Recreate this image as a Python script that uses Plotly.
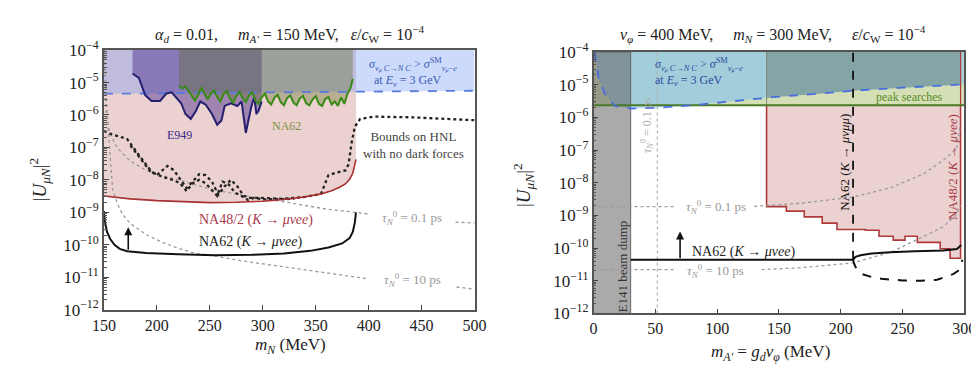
import numpy as np
import plotly.graph_objects as go

# ---------------- shared ----------------
Y_TOP = 1e-4
Y_BOT = 1e-12
Y_tickvals = [1e-12, 1e-11, 1e-10, 1e-9, 1e-8, 1e-7, 1e-6, 1e-5, 1e-4]
Y_ticktext = ["10<sup>−12</sup>", "10<sup>−11</sup>", "10<sup>−10</sup>", "10<sup>−9</sup>",
              "10<sup>−8</sup>", "10<sup>−7</sup>", "10<sup>−6</sup>", "10<sup>−5</sup>", "10<sup>−4</sup>"]

# ---------------- left panel data ----------------
L_xticks = [150, 200, 250, 300, 350, 400, 450, 500]

L_na48_x = [150, 160, 175, 200, 225, 250, 275, 300, 320, 340, 355, 365, 372, 378, 382, 385, 388]
L_na48_y = [3.2e-9, 2.9e-9, 2.6e-9, 2.3e-9, 2.1e-9, 2.0e-9, 2.05e-9, 2.2e-9, 2.5e-9, 3.0e-9,
            3.7e-9, 4.6e-9, 5.8e-9, 7.5e-9, 1.05e-8, 1.6e-8, 4.3e-8]

L_blue_x = [150, 300, 500]
L_blue_y = [4.5e-6, 5.0e-6, 5.6e-6]

L_e949_x = [177, 183, 189, 195, 203, 209, 214, 218, 223, 227, 232, 237, 241, 246, 252, 257,
            261, 264, 270, 276, 280, 284, 289, 292, 294, 296, 299]
L_e949_y = [1.9e-5, 1.4e-5, 4.1e-6, 2.7e-6, 2.7e-6, 4.6e-6, 5.0e-6, 3.6e-6, 2.3e-6, 1.07e-6,
            7.6e-7, 1.35e-6, 2.6e-6, 2.1e-6, 1.07e-6, 5.0e-7, 6.8e-7, 1.9e-6, 2.3e-6, 1.9e-6,
            2.6e-6, 2.8e-7, 1.7e-6, 3.6e-6, 1.07e-6, 1.35e-6, 2.6e-6]

L_na62_x = [221, 224, 227, 230, 233, 236, 239, 242, 245, 248, 251, 254, 257, 260, 263, 266, 269,
            272, 275, 278, 281, 284, 287, 290, 293, 296, 299, 302, 305, 308, 311, 314, 317, 320,
            323, 326, 329, 332, 335, 338, 341, 344, 347, 350, 353, 356, 359, 362, 365, 368, 371,
            374, 377, 380, 383, 385]
L_na62_y = [8e-6, 6.5e-6, 7.5e-6, 5.5e-6, 4e-6, 2.8e-6, 4.2e-6, 7e-6, 4.5e-6, 3.0e-6, 4.5e-6,
            5.8e-6, 3.5e-6, 2.6e-6, 4.4e-6, 5.5e-6, 3.2e-6, 2.4e-6, 3.8e-6, 5.2e-6, 3.3e-6,
            2.5e-6, 4.0e-6, 5.0e-6, 2.8e-6, 2.2e-6, 3.5e-6, 4.6e-6, 2.6e-6, 2.1e-6, 3.4e-6,
            4.2e-6, 2.5e-6, 2.0e-6, 3.3e-6, 4.0e-6, 2.4e-6, 2.0e-6, 3.2e-6, 3.9e-6, 2.3e-6,
            2.0e-6, 3.0e-6, 3.8e-6, 2.2e-6, 1.9e-6, 3.1e-6, 3.6e-6, 2.1e-6, 2.6e-6, 1.9e-6,
            3.5e-6, 2.2e-6, 4.5e-6, 7e-6, 1.3e-5]

L_kee_x = [150, 151, 153, 156, 160, 165, 172, 190, 220, 255, 290, 320, 345, 362, 375, 382, 385, 387, 388]
L_kee_y = [1.1e-9, 5e-10, 2.5e-10, 1.5e-10, 1.0e-10, 7.5e-11, 6.3e-11, 5.6e-11, 5.1e-11, 4.8e-11,
           4.9e-11, 5.4e-11, 6.5e-11, 8.3e-11, 1.1e-10, 1.6e-10, 2.5e-10, 5e-10, 1e-9]
L_arrow_x = [173, 173]
L_arrow_y = [6.3e-11, 3.5e-10]

L_hnl1_x = [150, 158, 166, 172, 180, 188, 195, 200, 205, 210, 216, 222, 228, 234, 240, 246, 252,
            258, 264, 270, 276, 282, 288, 295, 305, 320, 340, 355, 362, 370, 378, 381, 384, 387,
            392, 405, 440, 470, 500]
L_hnl1_y = [3.2e-7, 2.5e-7, 2.1e-7, 1.8e-7, 7.9e-8, 3.5e-8, 1.8e-8, 1.4e-8, 2.0e-8, 2.7e-8,
            2.0e-8, 1.1e-8, 5.6e-9, 8.9e-9, 1.5e-8, 1.4e-8, 8.9e-9, 3.5e-9, 6.3e-9, 1.0e-8,
            6.3e-9, 3.2e-9, 2.8e-9, 2.8e-9, 2.7e-9, 2.6e-9, 3.0e-9, 3.7e-9, 1.4e-8, 1.7e-8,
            1.95e-8, 3.0e-8, 1.45e-7, 4.4e-7, 7.6e-7, 8.9e-7, 8.5e-7, 7.6e-7, 6.9e-7]
L_hnl2_x = [175, 184, 194, 205, 215, 222, 228, 234, 240, 246, 252, 257, 262, 268, 274, 280,
            286, 292, 300, 315, 330]
L_hnl2_y = [1.15e-7, 4.8e-8, 1.8e-8, 1.25e-8, 1.0e-8, 7.9e-9, 4.5e-9, 7.9e-9, 1.0e-8, 7.9e-9,
            5.0e-9, 3.2e-9, 8.9e-9, 7.1e-9, 4.0e-9, 3.2e-9, 2.4e-9, 2.8e-9, 2.5e-9, 2.5e-9, 2.6e-9]

L_tau01_x = [150.3, 152, 156, 163, 175, 190, 205, 221, 236, 252, 267, 282, 300, 320, 340, 360, 380, 400]
L_tau01_y = [1e-4, 1.07e-6, 2.5e-7, 9.3e-8, 3.8e-8, 1.95e-8, 1.35e-8, 1.0e-8, 7.1e-9, 5.1e-9,
             4.1e-9, 3.3e-9, 2.6e-9, 2.1e-9, 1.6e-9, 1.26e-9, 1.07e-9, 8.9e-10]
L_tau01b_x = [482, 500]
L_tau01b_y = [5.0e-10, 4.7e-10]
L_tau10_x = [150.3, 152, 153.5, 155.2, 158.3, 163, 167.5, 175, 190.5, 206, 221, 237, 255, 280,
             316, 350, 380, 398]
L_tau10_y = [1e-4, 3.6e-6, 6.3e-7, 1.15e-7, 5.0e-9, 1.8e-9, 8.7e-10, 4.5e-10, 2.0e-10, 1.17e-10,
             7.6e-11, 5.4e-11, 4.5e-11, 3.2e-11, 2.2e-11, 1.5e-11, 1.12e-11, 9.1e-12]
L_tau10b_x = [483, 500]
L_tau10b_y = [5.0e-12, 4.3e-12]

# ---------------- right panel data ----------------
R_xticks = [0, 50, 100, 150, 200, 250, 300]
R_e141_x = [0, 30]
R_peak_y = 2.35e-6
R_blue_x = [0.8, 1.6, 4.2, 9.5, 17.4, 30.5, 50, 80, 110, 150, 180, 212, 250, 299.5]
R_blue_y = [1e-4, 6.8e-5, 1.45e-5, 4.8e-6, 2.2e-6, 1.86e-6, 1.95e-6, 2.35e-6, 3.0e-6, 4.3e-6,
            5.2e-6, 6.6e-6, 8.1e-6, 1.02e-5]
R_step_x = [140, 156, 170.5, 185, 197, 220, 231, 242.5, 252, 262, 280.5, 288.5, 297]
R_step_y = [1.86e-9, 1.35e-9, 9e-10, 5.8e-10, 3.7e-10, 3.5e-10, 2.3e-10, 1.75e-10, 2.3e-10,
            1.5e-10, 9.5e-11, 4.9e-11]
R_kee_x = [30, 210, 212, 216, 225, 240, 260, 283, 294, 297.5]
R_kee_y = [4.4e-11, 4.4e-11, 5.4e-11, 6.0e-11, 6.8e-11, 7.5e-11, 8.0e-11, 8.5e-11, 9.3e-11, 1.25e-10]
R_dash_x = [210, 211, 213, 217.4, 225, 233, 250, 264.7, 278, 284.5, 291, 295, 297.5, 298.5]
R_dash_y = [4.4e-11, 3.2e-11, 2.2e-11, 1.6e-11, 1.3e-11, 1.15e-11, 1.02e-11, 1.0e-11, 1.07e-11,
            1.3e-11, 1.6e-11, 2.0e-11, 3.2e-11, 4.4e-11]
R_mumu_x = 210
R_arrow_x = [70, 70]
R_arrow_y = [4.4e-11, 3.2e-10]
R_tau01a_x = [4, 67]
R_tau01a_y = [1.86e-9, 1.86e-9]
R_tau01b_x = [130, 167, 209.5, 241, 267.4, 285.8, 293.7, 296.5]
R_tau01b_y = [1.9e-9, 2.35e-9, 3.6e-9, 7.1e-9, 1.9e-8, 5.8e-8, 1.1e-7, 5e-7]
R_tau10a_x = [4, 67]
R_tau10a_y = [2.2e-11, 2.2e-11]
R_tau10b_x = [136, 167.4, 209.5, 241, 267.4, 283, 293.7, 297]
R_tau10b_y = [2.2e-11, 2.5e-11, 3.5e-11, 7.6e-11, 2.3e-10, 4.5e-10, 1.07e-9, 2.0e-9]
R_vdot_x = 51.6

# ---------------- colours ----------------
PINK = "rgba(205,140,135,0.40)"
L_BLUE = "rgba(110,150,245,0.35)"
E949_FILL = "rgba(70,40,140,0.45)"
NA62_FILL = "rgba(90,110,30,0.35)"
R_GREEN = "rgba(160,185,90,0.45)"
R_BLUE = "rgba(120,190,250,0.55)"
R_DARK = "rgba(80,90,70,0.35)"
GREY_FILL = "rgba(100,100,100,0.55)"
FONT = "Liberation Serif"

fig = go.Figure()


def add(x, y, ax, **kw):
    xa, ya = ("x", "y") if ax == 0 else ("x2", "y2")
    fig.add_trace(go.Scatter(x=x, y=y, xaxis=xa, yaxis=ya, showlegend=False,
                             hoverinfo="skip", **kw))


def region_above(x, y):
    return list(x) + [x[-1], x[0]], list(y) + [Y_TOP, Y_TOP]


NOLINE = dict(width=0)

# ===== left panel =====
px_, py_ = region_above(L_na48_x, L_na48_y)
add(px_, py_, 0, fill="toself", fillcolor=PINK, mode="lines", line=NOLINE)
px_, py_ = region_above(L_blue_x, L_blue_y)
add(px_, py_, 0, fill="toself", fillcolor=L_BLUE, mode="lines", line=NOLINE)
px_, py_ = region_above(L_e949_x, L_e949_y)
add(px_, py_, 0, fill="toself", fillcolor=E949_FILL, mode="lines", line=NOLINE)
px_, py_ = region_above(L_na62_x, L_na62_y)
add(px_, py_, 0, fill="toself", fillcolor=NA62_FILL, mode="lines", line=NOLINE)

add(L_blue_x, L_blue_y, 0, mode="lines", line=dict(color="#5a7ae0", width=1.8, dash="dash"))
for xs, ys in [(L_tau01_x, L_tau01_y), (L_tau01b_x, L_tau01b_y),
               (L_tau10_x, L_tau10_y), (L_tau10b_x, L_tau10b_y)]:
    add(xs, ys, 0, mode="lines", line=dict(color="#9a9a9a", width=1.3, dash="dot"))
add(L_hnl1_x, L_hnl1_y, 0, mode="lines", line=dict(color="#222", width=2.3, dash="dot"))
add(L_hnl2_x, L_hnl2_y, 0, mode="lines", line=dict(color="#222", width=2.3, dash="dot"))
add(L_na48_x, L_na48_y, 0, mode="lines", line=dict(color="#a83232", width=1.6))
add(L_e949_x, L_e949_y, 0, mode="lines", line=dict(color="#262070", width=2))
add(L_na62_x, L_na62_y, 0, mode="lines", line=dict(color="#3a8a18", width=2))
add(L_kee_x, L_kee_y, 0, mode="lines", line=dict(color="#111", width=2))

# ===== right panel =====
# NA48/2 staircase region (below the peak-search line)
sx, sy = [R_step_x[0]], [R_peak_y]
for i, v in enumerate(R_step_y):
    sx += [R_step_x[i], R_step_x[i + 1]]
    sy += [v, v]
sx += [R_step_x[-1]]
sy += [R_peak_y]
add(sx, sy, 1, fill="toself", fillcolor=PINK, mode="lines", line=dict(color="#b03a3a", width=1.6))
# peak searches band
add([0, 300, 300, 0], [R_peak_y, R_peak_y, Y_TOP, Y_TOP], 1, fill="toself", fillcolor=R_GREEN,
    mode="lines", line=NOLINE)
# cross-section region above the dashed curve
px_, py_ = region_above(R_blue_x, R_blue_y)
add(px_, py_, 1, fill="toself", fillcolor=R_BLUE, mode="lines", line=NOLINE)
# darker overlap above the dashed curve where NA48/2 applies
lbx = np.log10(R_blue_y)
x0, x1 = R_step_x[0], R_step_x[-1]
ox = [x0] + [v for v in R_blue_x if x0 < v < x1] + [x1]
oy = [10 ** np.interp(v, R_blue_x, lbx) for v in ox]
add(ox + [x1, x0], oy + [Y_TOP, Y_TOP], 1, fill="toself", fillcolor=R_DARK, mode="lines",
    line=NOLINE)
add([x0, x0], [R_peak_y, Y_TOP], 1, mode="lines", line=dict(color="#7a8a80", width=1))
add([x1, x1], [R_peak_y, Y_TOP], 1, mode="lines", line=dict(color="#b03a3a", width=1.2))
# E141 beam dump
add([R_e141_x[0], R_e141_x[1], R_e141_x[1], R_e141_x[0]], [Y_BOT, Y_BOT, Y_TOP, Y_TOP], 1,
    fill="toself", fillcolor=GREY_FILL, mode="lines", line=dict(color="#666", width=1))

add([0, 300], [R_peak_y, R_peak_y], 1, mode="lines", line=dict(color="#4a7a28", width=2))
add(R_blue_x, R_blue_y, 1, mode="lines", line=dict(color="#4a6ee0", width=1.8, dash="dash"))
add([R_vdot_x, R_vdot_x], [Y_BOT, Y_TOP], 1, mode="lines",
    line=dict(color="#b0b0b0", width=1.2, dash="dot"))
for xs, ys in [(R_tau01a_x, R_tau01a_y), (R_tau01b_x, R_tau01b_y),
               (R_tau10a_x, R_tau10a_y), (R_tau10b_x, R_tau10b_y)]:
    add(xs, ys, 1, mode="lines", line=dict(color="#9a9a9a", width=1.3, dash="dot"))
add([R_mumu_x, R_mumu_x], [R_kee_y[0], Y_TOP], 1, mode="lines",
    line=dict(color="#111", width=1.8, dash="dash"))
add(R_kee_x, R_kee_y, 1, mode="lines", line=dict(color="#111", width=2))
add(R_dash_x, R_dash_y, 1, mode="lines", line=dict(color="#111", width=2, dash="dash"))

# ---------------- axes ----------------
axis_common = dict(showline=True, linecolor="#555", linewidth=1.5, mirror=True, ticks="inside",
                   ticklen=5, tickcolor="#444", showgrid=False, zeroline=False,
                   tickfont=dict(family=FONT, size=16, color="#222"))
yaxis_common = dict(axis_common, type="log", range=[-12, -4], tickvals=Y_tickvals,
                    ticktext=Y_ticktext, tickfont=dict(family=FONT, size=17, color="#222"),
                    minor=dict(ticks="inside", ticklen=3, tickcolor="#555", dtick="D1"))

fig.update_layout(
    width=979, height=370, autosize=False,
    margin=dict(l=0, r=0, t=0, b=0),
    paper_bgcolor="white", plot_bgcolor="white",
    font=dict(family=FONT, color="#222"),
    xaxis=dict(axis_common, domain=[86 / 979, 466 / 979], range=[150, 500], anchor="y",
               tickvals=L_xticks),
    yaxis=dict(yaxis_common, domain=[62 / 370, 338 / 370], anchor="x"),
    xaxis2=dict(axis_common, domain=[588 / 979, 968 / 979], range=[0, 300], anchor="y2",
                tickvals=R_xticks),
    yaxis2=dict(yaxis_common, domain=[58 / 370, 336 / 370], anchor="x2"),
)

ann = []
NB = "\u00a0"


def paper(text, px, py, size=15, color="#222", angle=0):
    ann.append(dict(text=text, x=px / 979, y=1 - py / 370, xref="paper", yref="paper",
                    showarrow=False, font=dict(family=FONT, size=size, color=color),
                    textangle=angle, xanchor="center", yanchor="middle"))


def data(text, x, y, ax, size=13, color="#222", angle=0, xanchor="center", align="center"):
    xr, yr = ("x", "y") if ax == 0 else ("x2", "y2")
    ann.append(dict(text=text, x=x, y=np.log10(y), xref=xr, yref=yr, showarrow=False,
                    font=dict(family=FONT, size=size, color=color), textangle=angle,
                    xanchor=xanchor, yanchor="middle", align=align))


# titles
paper("<i>α</i><sub><i>d</i></sub> = 0.01," + NB * 5 + "<i>m</i><sub><i>A'</i></sub> = 150 MeV," + NB * 3
      + "<i>ε</i>/<i>c</i><sub>W</sub> = 10<sup>−4</sup>", 276, 15, size=16)
paper("<i>v</i><sub><i>φ</i></sub> = 400 MeV," + NB * 5 + "<i>m</i><sub><i>N</i></sub> = 300 MeV," + NB * 5
      + "<i>ε</i>/<i>c</i><sub>W</sub> = 10<sup>−4</sup>", 772, 15, size=16)
# axis titles
paper("|<i>U</i><sub><i>μN</i></sub>|<sup>2</sup>", 20, 170, size=19, angle=-90)
paper("|<i>U</i><sub><i>μN</i></sub>|<sup>2</sup>", 516, 175, size=19, angle=-90)
paper("<i>m</i><sub><i>N</i></sub> (MeV)", 277, 347, size=17)
paper("<i>m</i><sub><i>A'</i></sub> = <i>g</i><sub><i>d</i></sub><i>v</i><sub><i>φ</i></sub> (MeV)",
      769, 354, size=17)

# left labels
sig = ("<i>σ</i><sub><i>ν<sub>μ</sub></i> <i>C</i>→<i>N C</i></sub> > "
       "<i>σ</i><sup>SM</sup><sub><i>ν<sub>μ</sub></i>−<i>e</i></sub>")
data(sig, 442, 3.5e-5, 0, size=12, color="#3a5ab0")
data("at <i>E</i><sub><i>ν</i></sub> = 3 GeV", 437, 1.1e-5, 0, size=12, color="#3a5ab0")
data("E949", 221, 2.5e-7, 0, size=12, color="#3a2a8a")
data("NA62", 322, 4.5e-7, 0, size=12, color="#7e9040")
data("Bounds on HNL<br>with no dark forces", 442, 1.2e-7, 0, size=13, color="#444")
data("NA48/2 (<i>K</i> → <i>μνee</i>)", 294, 6e-10, 0, size=14, color="#a83a4a")
data("NA62 (<i>K</i> → <i>μνee</i>)", 288, 1.2e-10, 0, size=14, color="#222")
data("<i>τ</i><sub><i>N</i></sub><sup>0</sup> = 0.1 ps", 441, 6.9e-10, 0, size=13, color="#999")
data("<i>τ</i><sub><i>N</i></sub><sup>0</sup> = 10 ps", 441, 8.1e-12, 0, size=13, color="#999")

# right labels
data(sig + "<br>at <i>E</i><sub><i>ν</i></sub> = 3 GeV", 48, 2.5e-5, 1, size=12,
     color="#2a4aa0", xanchor="left", align="left")
data("peak searches", 256, 4.3e-6, 1, size=12, color="#5a8a2a")
data("E141 beam dump", 23, 2.75e-11, 1, size=13, color="#333", angle=-90)
data("NA62 (<i>K</i> → <i>μνμμ</i>)", 202.5, 4.3e-8, 1, size=13, color="#111", angle=-90)
data("NA48/2 (<i>K</i> → <i>μνee</i>)", 290, 3e-8, 1, size=13, color="#a83a4a", angle=-90)
data("<i>τ</i><sub><i>N</i></sub><sup>0</sup> = 0.1 ps", 43.6, 6e-7, 1, size=12, color="#aaa", angle=-90)
data("<i>τ</i><sub><i>N</i></sub><sup>0</sup> = 0.1 ps", 98.7, 1.86e-9, 1, size=13, color="#999")
data("<i>τ</i><sub><i>N</i></sub><sup>0</sup> = 10 ps", 98.7, 1.95e-11, 1, size=13, color="#999")
data("NA62 (<i>K</i> → <i>μνee</i>)", 121, 7.6e-11, 1, size=14, color="#222")

# arrows
for ax, (xs, ys) in enumerate([(L_arrow_x, L_arrow_y), (R_arrow_x, R_arrow_y)]):
    xr, yr = ("x", "y") if ax == 0 else ("x2", "y2")
    ann.append(dict(text="", x=xs[1], y=np.log10(ys[1]), ax=xs[0], ay=np.log10(ys[0]),
                    xref=xr, yref=yr, axref=xr, ayref=yr, showarrow=True, arrowhead=2,
                    arrowsize=1, arrowwidth=1.6, arrowcolor="#111"))

fig.update_layout(annotations=ann)
fig.write_html("out.html")
